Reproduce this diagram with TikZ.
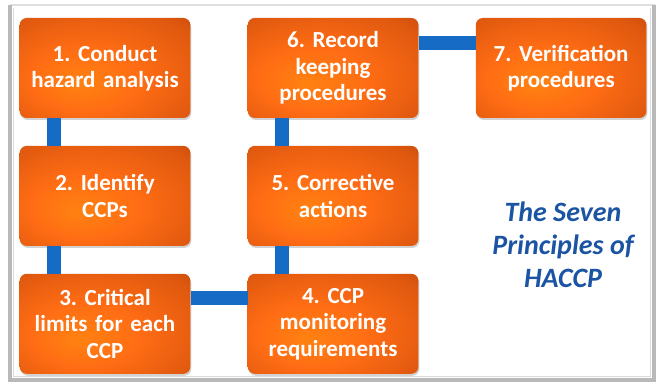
\documentclass[tikz,border=0pt]{standalone}
\usepackage{fontspec}
\setmainfont{Carlito}
\usetikzlibrary{positioning,shadows}

\definecolor{stepbright}{RGB}{255,108,20}
\definecolor{stepdark}{RGB}{150,44,4}
\definecolor{linkblue}{RGB}{22,108,196}
\definecolor{titleblue}{RGB}{28,84,164}

% glow of the step boxes, brighter a bit low and left
\pgfdeclareradialshading{stepglow}{\pgfpoint{-8bp}{-8bp}}{%
	color(0bp)=(stepbright!85!yellow); color(16bp)=(stepbright);
	color(34bp)=(stepbright!70!stepdark); color(58bp)=(stepdark)}

\frenchspacing
\begin{document}
\begin{tikzpicture}[x=1pt,y=1pt]
			\tikzset{principle/.style={shading=stepglow, rounded corners=7pt,
				minimum width=170pt, minimum height=100pt, text width=164pt,
				align=center, text=white, font=\bfseries\fontsize{23}{26.5}\selectfont,
				drop shadow={opacity=0.35, shadow xshift=1pt, shadow yshift=-2pt}}}
			\tikzset{link/.style={draw=linkblue, line width=14pt}}
			\useasboundingbox (0,0) rectangle (658,383);
			% frame
			\fill[white] (0,0) rectangle (658,383);
			\draw[gray!25, line width=2pt] (10,378) -- (655,378);
			\draw[gray!55, line width=4pt] (10,378) -- (10,3) -- (654,3) -- (654,378);
			\draw[gray!30, line width=1pt] (13,375) -- (13,7) -- (650,7) -- (650,375);
			% steps
			\node[principle] (h1) at (105,315) {1. Conduct\\hazard analysis};
			\node[principle, below=27.5pt of h1] (h2) {2. Identify\\CCPs};
			\node[principle, below=27.5pt of h2] (h3) {3. Critical\\limits for each\\CCP};
			\node[principle, right=57pt of h3] (h4) {4. CCP\\monitoring\\requirements};
			\node[principle, above=27.5pt of h4] (h5) {5. Corrective\\actions};
			\node[principle, above=27.5pt of h5] (h6) {6. Record\\keeping\\procedures};
			\node[principle, right=57pt of h6] (h7) {7. Verification\\procedures};
			% links
			\draw[link] ([xshift=-51pt]h1.south) -- ([xshift=-51pt]h2.north);
			\draw[link] ([xshift=-51pt]h2.south) -- ([xshift=-51pt]h3.north);
			\draw[link] ([yshift=26pt]h3.east) -- ([yshift=26pt]h4.west);
			\draw[link] ([xshift=-51pt]h4.north) -- ([xshift=-51pt]h5.south);
			\draw[link] ([xshift=-51pt]h5.north) -- ([xshift=-51pt]h6.south);
			\draw[link] ([yshift=25pt]h6.east) -- ([yshift=25pt]h7.west);
			\node[align=center, text=titleblue, font=\bfseries\itshape\fontsize{28}{33}\selectfont]
				(title) at (563,138) {The Seven\\Principles of\\HACCP};
		\end{tikzpicture}
\end{document}
